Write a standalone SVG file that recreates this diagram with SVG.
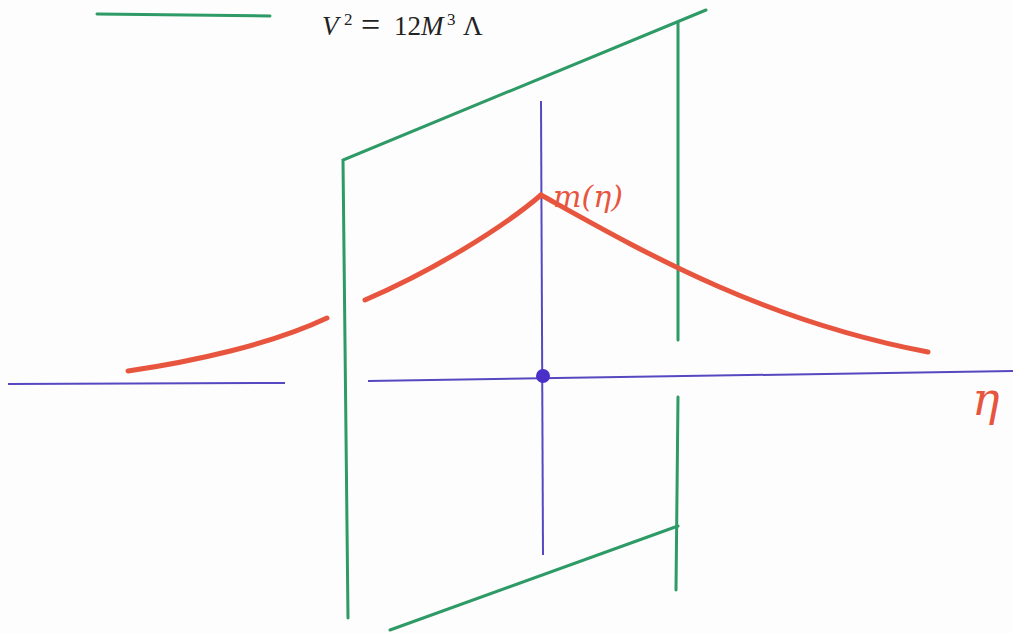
<svg xmlns="http://www.w3.org/2000/svg" width="1013" height="633" viewBox="0 0 1013 633">
<style>
.g{stroke:#2e9a66;stroke-width:3;fill:none;stroke-linecap:round}
.b{stroke:#5548c0;stroke-width:2;fill:none}
.r{stroke:#e8553f;stroke-width:5;fill:none;stroke-linecap:round}
.lbl{fill:#e8553f;font-family:"DejaVu Serif",serif;font-style:italic}
.eq{font-family:"Liberation Serif",serif;font-size:27px;fill:#222}
.sup{font-size:17px}
</style>
<rect width="1013" height="633" fill="#fdfdfd"/>
<g id="legend">
<line class="g" x1="97" y1="14" x2="270" y2="16"/>
<text class="eq" y="35"><tspan x="322" font-style="italic">V</tspan><tspan class="sup" x="344" y="25">2</tspan><tspan x="361" y="36" font-size="34">=</tspan><tspan x="394" y="35">12</tspan><tspan x="421" y="35" font-style="italic">M</tspan><tspan class="sup" x="447" y="25">3</tspan><tspan x="463" y="35">Λ</tspan></text>
</g>
<g id="axes">
<line class="b" x1="8" y1="384" x2="285" y2="383"/>
<line class="b" x1="368" y1="381" x2="1013" y2="371"/>
<line class="b" x1="541" y1="101" x2="543" y2="555"/>
<circle cx="543" cy="376" r="7" fill="#4a30c8"/>
</g>
<g id="brane">
<polyline class="g" points="706,10 343,160 348,618"/>
<line class="g" x1="678" y1="22" x2="678" y2="340"/>
<line class="g" x1="678" y1="397" x2="676" y2="590"/>
<line class="g" x1="390" y1="630" x2="678" y2="526"/>
</g>
<g id="curve">
<path class="r" d="M128,371 C190,362 270,345 327,318"/>
<path class="r" d="M365,300 C430,272 500,230 541,195"/>
<path class="r" d="M541,195 C640,250 760,320 928,352"/>
<text class="lbl" x="553" y="207" font-size="30">m(η)</text>
<text class="lbl" x="972" y="415" font-size="46">η</text>
</g>
</svg>
